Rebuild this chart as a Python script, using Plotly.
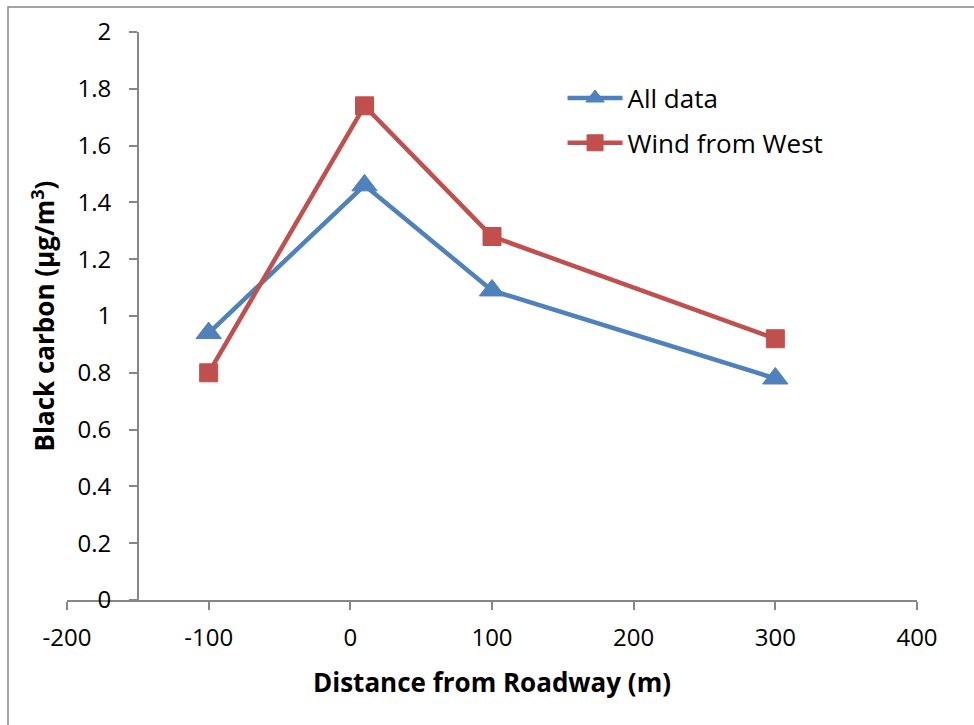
import plotly.graph_objects as go

distance = [-100, 10, 100, 300]
all_data = [0.94, 1.46, 1.09, 0.78]
wind_west = [0.80, 1.74, 1.28, 0.92]

x_ticks = [-200, -100, 0, 100, 200, 300, 400]
x_ticklabels = ["-200", "-100", "0", "100", "200", "300", "400"]

BLUE = "#4F81BD"
RED = "#C0504D"
GREY = "#868686"
FONT = "Open Sans"

fig = go.Figure()
fig.add_trace(go.Scatter(
    x=distance, y=all_data, name="All data", mode="lines+markers",
    line=dict(color=BLUE, width=4.5),
    marker=dict(symbol="triangle-up", size=22, color=BLUE, line=dict(color=BLUE, width=1)),
    legendgroup="a",
))
fig.add_trace(go.Scatter(
    x=distance, y=wind_west, name="Wind from West", mode="lines+markers",
    line=dict(color=RED, width=4.5),
    marker=dict(symbol="square", size=18, color=RED, line=dict(color=RED, width=1)),
    legendgroup="b",
))

fig.update_layout(
    width=974, height=725,
    margin=dict(l=67, r=57, t=32, b=125),
    paper_bgcolor="white", plot_bgcolor="white",
    font=dict(family=FONT, size=24, color="black"),
    showlegend=True,
    legend=dict(x=0.583, y=0.925, xanchor="left", yanchor="top",
                font=dict(family=FONT, size=26),
                bgcolor="rgba(0,0,0,0)", itemwidth=55,
                traceorder="grouped", tracegroupgap=8),
    xaxis=dict(range=[-200, 400], tickvals=x_ticks, ticktext=x_ticklabels,
               showgrid=False, zeroline=False, showline=True, linecolor=GREY, linewidth=1.5,
               ticks="outside", ticklen=8, tickcolor=GREY, tickwidth=1.5,
               tickfont=dict(family=FONT, size=24), ticklabelstandoff=7,
               title=dict(text="<b>Distance from Roadway (m)</b>", font=dict(family=FONT, size=26),
                          standoff=22)),
    yaxis=dict(range=[0, 2], dtick=0.2, tick0=0, anchor="free", position=50/600,
               showgrid=False, zeroline=False, showline=True, linecolor=GREY, linewidth=1.5,
               ticks="outside", ticklen=8, tickcolor=GREY, tickwidth=1.5,
               tickfont=dict(family=FONT, size=24), ticklabelstandoff=13,
               title=dict(text="<b>Black carbon (µg/m<sup>3</sup>)</b>", font=dict(family=FONT, size=26),
                          standoff=14)),
    shapes=[dict(type="rect", xref="paper", yref="paper",
                 x0=(8 - 67) / 850, x1=(990 - 67) / 850,
                 y0=(600 - 740) / 568, y1=(600 - 7) / 568,
                 line=dict(color=GREY, width=1.5), fillcolor="rgba(0,0,0,0)", layer="below")],
)

fig.write_html("out.html", config={"displayModeBar": False},
               post_script="document.body.style.margin='0px';")
